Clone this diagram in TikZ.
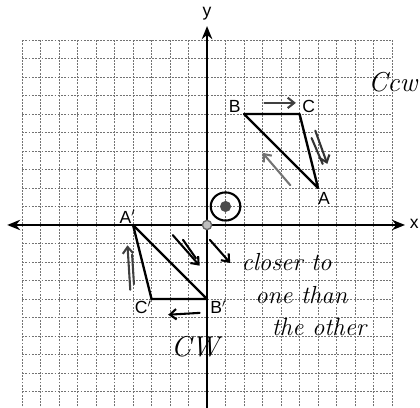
\documentclass[tikz,border=0pt]{standalone}
\usepackage{fontspec}
\newfontfamily\labelfont{Liberation Sans}
\usetikzlibrary{arrows.meta}

\begin{document}
\begin{tikzpicture}[x=0.5cm, y=0.5cm,
    gridline/.style={black!55, dash pattern=on 1.5pt off 1pt, line width=0.6pt},
    axis/.style={line width=2pt, -{Stealth[length=10pt, width=8pt]}},
    side/.style={line width=1.8pt, line join=round},
    pt/.style={font=\labelfont\fontsize{13.5}{15}\selectfont, inner sep=1pt},
    hand/.style={line width=1.6pt, line cap=round, line join=round},
    handarrow/.style={hand, -{Straight Barb[length=5pt, width=8pt]}},
    note/.style={font=\itshape\fontsize{19}{21}\selectfont, inner sep=0pt}]
  \useasboundingbox (-11.19, -9.89) rectangle (11.51, 12.16);
  \clip (-11.19, -9.89) rectangle (11.51, 12.16);
  % grid paper
  \foreach \i in {-10,...,10} {
    \draw[gridline] (\i, -10.5) -- (\i, 10);
    \draw[gridline] (-10, \i) -- (10, \i);
  }
  % axes
  \coordinate (o) at (0, 0);
  \coordinate (xl) at (-10.8, 0);
  \coordinate (xr) at (10.7, 0);
  \coordinate (yb) at (0, -10.5);
  \coordinate (yt) at (0, 10.75);
  \draw[axis] (o) -- (xr);
  \draw[axis] (o) -- (xl);
  \draw[axis] (yb) -- (yt);
  \node[pt] (xlab) at (11.2, 0.05) {x};
  \node[pt] (ylab) at (0, 11.4) {y};
  % original triangle
  \coordinate (A) at (6, 2);
  \coordinate (B) at (2, 6);
  \coordinate (C) at (5, 6);
  \draw[side] (A) -- (B) -- (C) -- cycle;
  \node[pt] (Alab) at (6.32, 1.45) {A};
  \node[pt] (Blab) at (1.5, 6.4) {B};
  \node[pt] (Clab) at (5.5, 6.4) {C};
  % image triangle
  \coordinate (A') at (-4, 0);
  \coordinate (B') at (0, -4);
  \coordinate (C') at (-3, -4);
  \draw[side] (A') -- (B') -- (C') -- cycle;
  \node[pt] (A'lab) at (-4.3, 0.45) {A$'$};
  \node[pt] (B'lab) at (0.6, -4.45) {B$'$};
  \node[pt] (C'lab) at (-3.45, -4.45) {C$'$};
  % centre of rotation
  \coordinate (P) at (1, 1);
  \draw[hand] (P) ellipse (0.8 and 0.76);
  \fill[black!70] (P) circle (0.3);
  \draw[black!60, line width=1pt, fill=black!25] (o) circle (0.25);
  % handwritten arrows
  \coordinate (bc1) at (3.1, 6.6);
  \coordinate (bc2) at (4.8, 6.6);
  \draw[handarrow, black!75] (bc1) -- (bc2);
  \coordinate (ca1) at (5.85, 5.1);
  \coordinate (ca2) at (6.5, 3.3);
  \draw[hand, black!80] (5.65, 4.7) -- (6.25, 3.3);
  \draw[handarrow, black!80] (ca1) -- (ca2);
  \coordinate (ab1) at (4.5, 2.15);
  \coordinate (ab2) at (3.0, 3.9);
  \draw[handarrow, black!55] (ab1) -- (ab2);
  \coordinate (ac1) at (-4.15, -3.5);
  \coordinate (ac2) at (-4.3, -1.1);
  \draw[handarrow, black!75] (ac1) -- (ac2);
  \draw[hand, black!75] (-3.95, -3.2) -- (-4.05, -1.6);
  \coordinate (ab'1) at (-1.85, -0.55);
  \coordinate (ab'2) at (-0.4, -2.2);
  \draw[handarrow] (ab'1) -- (ab'2);
  \draw[hand] (-1.3, -0.8) -- (-0.6, -1.8);
  \coordinate (cb1) at (-0.4, -4.75);
  \coordinate (cb2) at (-2.1, -4.85);
  \draw[handarrow] (cb1) -- (cb2);
  \coordinate (cl1) at (0.15, -0.8);
  \coordinate (cl2) at (1.25, -2.05);
  \draw[handarrow] (cl1) -- (cl2);
  % handwritten notes
  \node[note] (closer) at (4.3, -2.0) {closer to};
  \node[note] (one) at (5.1, -3.8) {one than};
  \node[note] (other) at (6.05, -5.5) {the other};
  \node[note, font=\itshape\fontsize{22}{24}\selectfont] (cw) at (-0.65, -6.6) {CW};
  \node[note, anchor=west, font=\itshape\fontsize{21}{23}\selectfont] (ccw) at (8.7, 7.7) {Ccw};
\end{tikzpicture}
\end{document}
